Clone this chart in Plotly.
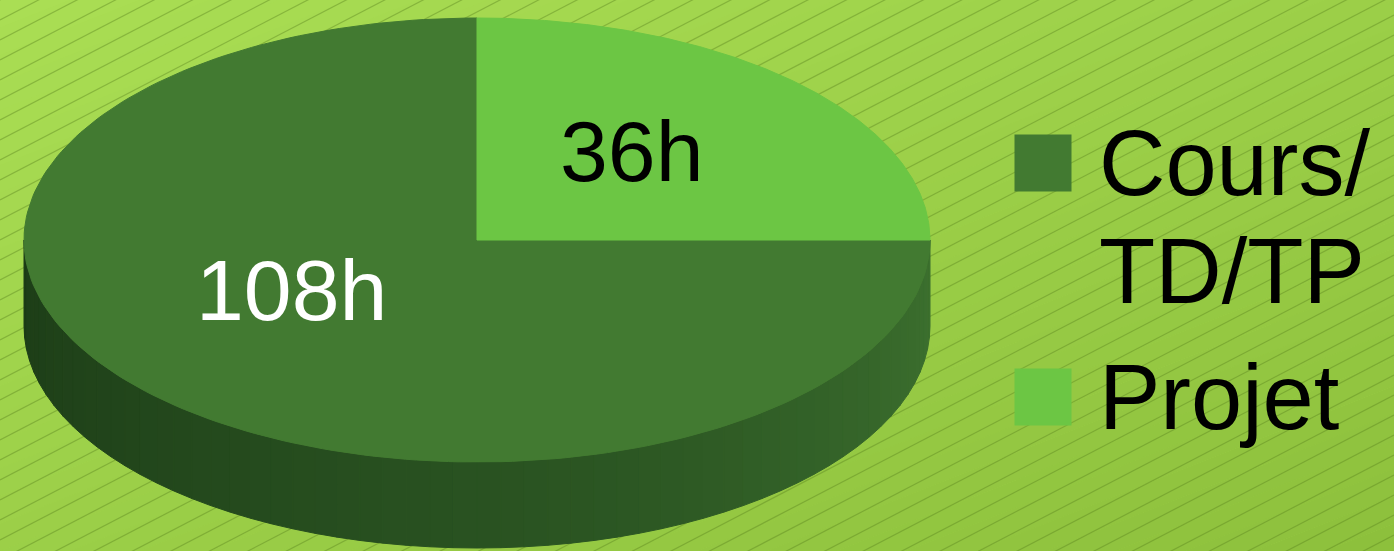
import numpy as np
import plotly.graph_objects as go

# ---------------- data ----------------
categories = ["Cours/TD/TP", "Projet"]
hours = [108, 36]
value_labels = [f"{h}h" for h in hours]
legend_lines = [["Cours/", "TD/TP"], ["Projet"]]

# ---------------- style ----------------
W, H = 1394, 551
BG_START = (170, 222, 84)   # top-left
BG_END = (141, 192, 60)     # bottom-right
HATCH = "rgba(90,130,30,0.42)"
CX, CY, A, B, DEPTH = 477, 240, 453, 222, 86
top_colors = ["#427a31", "#6cc644"]
label_colors = ["#ffffff", "#000000"]
label_radius = 0.5
label_shift = [(-25, -28), (-5, -11)]
label_size = 86
legend_size = 92
legend_sq_x, legend_sq_y0, legend_step = 1043, 163, 234
legend_text_x = 1097
legend_line_step = 108
FONT = "Liberation Sans, Arial, sans-serif"


def pt(theta):
    t = np.radians(theta)
    return CX - A * np.sin(t), CY - B * np.cos(t)


fig = go.Figure()

# background diagonal gradient (strips of constant x/W + y/H)
shapes = []
NS = 40
for k in range(NS):
    c0, c1 = 2.0 * k / NS, 2.0 * (k + 1) / NS
    f = (k + 0.5) / NS
    col = "rgb(%d,%d,%d)" % tuple(round(s + (e - s) * f) for s, e in zip(BG_START, BG_END))
    # points on line x/W + y/H = c: (c*W, 0) and (0, c*H) extended
    path = "M %f,%f L %f,%f L %f,%f L %f,%f Z" % (
        c0 * W - W, H * 1.0 if False else H, c0 * W + 0, 0, c1 * W + 0, 0, c1 * W - W, H)
    # correct parallelogram: line x = c*W - y*W/H
    path = "M %f,%f L %f,%f L %f,%f L %f,%f Z" % (
        c0 * W, 0, c0 * W - W, H, c1 * W - W + 1, H, c1 * W + 1, 0)
    shapes.append(dict(type="path", path=path, xref="x", yref="y", layer="below",
                       fillcolor=col, line=dict(width=0)))

# background hatching
hx, hy = [], []
slope = 0.52
spacing = 20
for k in range(int((H + slope * W) / spacing) + 2):
    y0 = k * spacing
    hx += [0, W, None]
    hy += [y0, y0 - slope * W, None]
fig.add_trace(go.Scatter(x=hx, y=hy, mode="lines", line=dict(color=HATCH, width=1.2),
                         hoverinfo="skip", showlegend=False))

total = sum(hours)
bounds = np.concatenate([[0], np.cumsum(hours)]) / total * 360.0


def hex2rgb(h):
    h = h.lstrip("#")
    return np.array([int(h[i:i + 2], 16) for i in (0, 2, 4)], float)


side_stops = [(90, hex2rgb("#1c3c17")), (200, hex2rgb("#2c5723")), (270, hex2rgb("#3d712f"))]


def side_color(th):
    for (a0, c0), (a1, c1) in zip(side_stops[:-1], side_stops[1:]):
        if a0 <= th <= a1:
            f = (th - a0) / (a1 - a0)
            c = c0 + (c1 - c0) * f
            return "rgb(%d,%d,%d)" % tuple(c.round())
    return "rgb(%d,%d,%d)" % tuple(side_stops[-1][1])


# side walls (visible front half: 90..270 degrees, counterclockwise from top)
for i in range(len(hours)):
    s, e = max(bounds[i], 90), min(bounds[i + 1], 270)
    if e <= s:
        continue
    edges = np.linspace(s, e, 61)
    for a0, a1 in zip(edges[:-1], edges[1:]):
        th = np.linspace(a0, a1, 4)
        xs, ys = pt(th)
        px = list(xs) + list(xs[::-1])
        py = list(ys + DEPTH) + list(ys[::-1])
        col = side_color((a0 + a1) / 2)
        fig.add_trace(go.Scatter(x=px + [px[0]], y=py + [py[0]], mode="lines", fill="toself",
                                 fillcolor=col, line=dict(color=col, width=1),
                                 hoverinfo="skip", showlegend=False))

# top faces
for i in range(len(hours)):
    th = np.linspace(bounds[i], bounds[i + 1], 200)
    xs, ys = pt(th)
    px = [CX] + list(xs) + [CX]
    py = [CY] + list(ys) + [CY]
    fig.add_trace(go.Scatter(x=px, y=py, mode="lines", fill="toself", fillcolor=top_colors[i],
                             line=dict(color=top_colors[i], width=1), name=categories[i],
                             hoverinfo="skip", showlegend=False))

# value labels
annotations = []
for i in range(len(hours)):
    mid = (bounds[i] + bounds[i + 1]) / 2
    t = np.radians(mid)
    lx = CX - A * label_radius * np.sin(t) + label_shift[i][0]
    ly = CY - B * label_radius * np.cos(t) + label_shift[i][1]
    annotations.append(dict(x=lx, y=ly, text=value_labels[i], showarrow=False,
                            xanchor="center", yanchor="middle",
                            font=dict(family=FONT, size=label_size, color=label_colors[i])))

# legend
fig.add_trace(go.Scatter(x=[legend_sq_x] * len(categories),
                         y=[legend_sq_y0 + j * legend_step for j in range(len(categories))],
                         mode="markers", marker=dict(symbol="square", size=57, color=top_colors,
                                                     line=dict(width=0)),
                         hoverinfo="skip", showlegend=False))
for j, lines in enumerate(legend_lines):
    for k, line in enumerate(lines):
        annotations.append(dict(x=legend_text_x, y=legend_sq_y0 + j * legend_step + k * legend_line_step,
                                text=line, showarrow=False, xanchor="left", yanchor="middle",
                                font=dict(family=FONT, size=legend_size, color="#000000")))

fig.update_layout(
    width=W, height=H, margin=dict(l=0, r=0, t=0, b=0),
    paper_bgcolor="rgb(%d,%d,%d)" % BG_START, plot_bgcolor="rgba(0,0,0,0)",
    xaxis=dict(range=[0, W], visible=False, fixedrange=True),
    yaxis=dict(range=[H, 0], visible=False, fixedrange=True),
    annotations=annotations, shapes=shapes, showlegend=False,
)
fig.write_html("out.html")
